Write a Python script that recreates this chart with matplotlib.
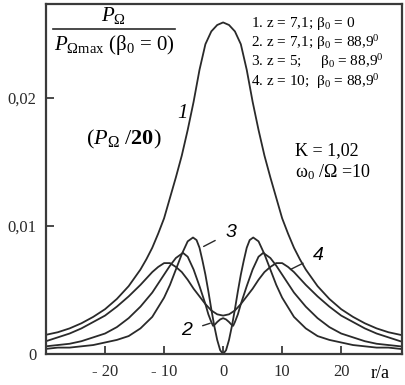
import numpy as np
import matplotlib.pyplot as plt
from matplotlib.lines import Line2D

plt.rcParams['font.family'] = ['Liberation Serif', 'DejaVu Serif']
plt.rcParams['mathtext.fontset'] = 'custom'
plt.rcParams['mathtext.rm'] = 'Liberation Serif'
plt.rcParams['mathtext.it'] = 'Liberation Serif:italic'
plt.rcParams['mathtext.bf'] = 'Liberation Serif:bold'

# r/a >= 0 half of each curve (curves are symmetric)
r1 = [0, 1, 2, 3, 4, 5, 6, 7, 8, 9, 10, 11, 12, 13, 14, 16, 18, 20, 22, 24, 26, 28, 30]
p1 = [0.0259, 0.0257, 0.0252, 0.0242, 0.0222, 0.0197, 0.0175, 0.0155, 0.0138, 0.0122,
      0.0106, 0.0094, 0.0083, 0.0074, 0.0066, 0.0053, 0.0043, 0.0035, 0.0029, 0.0024,
      0.0020, 0.0017, 0.0015]

r2 = [0, 0.5, 1, 1.4, 1.7, 2, 2.5, 3, 4, 5, 6, 6.8, 8, 9, 10, 12, 14, 16, 18, 20, 22, 24, 26, 28, 30]
p2 = [0.0028, 0.0027, 0.0025, 0.0023, 0.0022, 0.0025, 0.0031, 0.0039, 0.0053, 0.0066,
      0.0076, 0.0079, 0.0075, 0.0069, 0.0062, 0.0048, 0.0037, 0.0028, 0.0021, 0.0016,
      0.0013, 0.0010, 0.0008, 0.0007, 0.0006]

r3 = [0, 0.5, 1, 1.5, 2, 2.5, 3, 3.5, 4, 4.5, 5.1, 6, 7, 8, 9, 10, 12, 14, 16, 18, 20, 22, 24, 26, 28, 30]
p3 = [0.0, 0.0003, 0.0011, 0.0022, 0.0035, 0.0049, 0.0062, 0.0073, 0.0083, 0.0089,
      0.0091, 0.0088, 0.0078, 0.0066, 0.0054, 0.0044, 0.0029, 0.0020, 0.0014, 0.0011,
      0.0009, 0.0007, 0.0006, 0.0005, 0.0005, 0.0004]

r4 = [0, 1, 2, 3, 4, 5, 6, 7, 8, 9, 9.5, 10, 11, 12, 14, 16, 18, 20, 22, 24, 26, 28, 30]
p4 = [0.0030, 0.0031, 0.0034, 0.0039, 0.0045, 0.0051, 0.0058, 0.0064, 0.0068, 0.0071,
      0.0071, 0.0071, 0.0068, 0.0064, 0.0054, 0.0045, 0.0037, 0.0030, 0.0025, 0.0020,
      0.0016, 0.0013, 0.0010]

xticks = [-20, -10, 0, 10, 20]
xticklabels = ['- 20', '- 10', '0', '10', '20']
yticks = [0, 0.01, 0.02]
yticklabels = ['0', '0,01', '0,02']

legend_lines = [r'1. z = 7,1; $\mathrm{\beta}_0$ = 0',
                r'2. z = 7,1; $\mathrm{\beta}_0$ = 88,9$^0$',
                r'3. z = 5;     $\mathrm{\beta}_0$ = 88,9$^0$',
                r'4. z = 10;  $\mathrm{\beta}_0$ = 88,9$^0$']


def mirror(r, p):
    r = np.array(r, dtype=float)
    p = np.array(p, dtype=float)
    return np.concatenate((-r[:0:-1], r)), np.concatenate((p[:0:-1], p))


fig = plt.figure(figsize=(4.05, 3.85), dpi=100)
ax = fig.add_axes([46 / 405, 1 - 354 / 385, 356 / 405, 350 / 385])

col = '#2a2a2a'
for r, p in [(r1, p1), (r2, p2), (r3, p3), (r4, p4)]:
    x, y = mirror(r, p)
    ax.plot(x, y, color=col, lw=1.3)

ax.set_xlim(-30, 30.3)
ax.set_ylim(0, 0.02734)
ax.set_xticks(xticks)
ax.set_xticklabels(xticklabels)
ax.set_yticks(yticks)
ax.set_yticklabels(yticklabels)
ax.tick_params(direction='in', length=6, width=1.2, colors=col, labelsize=12, pad=7)
for s in ax.spines.values():
    s.set_linewidth(1.6)
    s.set_color('#3a3a3a')

fig.text(380 / 405, 1 - 373 / 385, 'r/a', fontsize=13, ha='center', va='center')

# y quantity as a fraction
fig.text(113 / 405, 1 - 16 / 385, r'$P_\Omega$', fontsize=15, ha='center', va='center')
fig.add_artist(Line2D([53 / 405, 175 / 405], [1 - 29 / 385, 1 - 29 / 385],
                      color=col, lw=1.2))
fig.text(114 / 405, 1 - 45 / 385, r'$P_{\Omega\mathrm{max}}$ ($\mathrm{\beta}_0$ = 0)',
         fontsize=15, ha='center', va='center')

for i, t in enumerate(legend_lines):
    fig.text(251 / 405, 1 - (23 + 19.5 * i) / 385, t, fontsize=11, ha='left', va='center')

fig.text(295 / 405, 1 - 151 / 385, 'K = 1,02', fontsize=13, ha='left', va='center')
fig.text(295 / 405, 1 - 172 / 385, r'$\mathrm{\omega}_0$ /$\Omega$ =10', fontsize=13,
         ha='left', va='center')

fig.text(183 / 405, 1 - 114 / 385, '1', fontsize=15, style='italic', ha='center', va='center')
fig.text(124 / 405, 1 - 139 / 385, r'($P_\Omega$ /$\mathbf{20}$)', fontsize=16,
         ha='center', va='center')

lab = dict(fontsize=14, style='italic', family=['Liberation Sans', 'DejaVu Sans'],
           ha='center', va='center')
ax.annotate('3', xy=(-3.3, 0.0084), xytext=(1.3, 0.0095),
            arrowprops=dict(arrowstyle='-', color=col, lw=1.0, shrinkA=6, shrinkB=0), **lab)
ax.annotate('2', xy=(-2.2, 0.0024), xytext=(-6.2, 0.0018),
            arrowprops=dict(arrowstyle='-', color=col, lw=1.0, shrinkA=6, shrinkB=0), **lab)
ax.annotate('4', xy=(11.4, 0.0066), xytext=(16.2, 0.0077),
            arrowprops=dict(arrowstyle='-', color=col, lw=1.0, shrinkA=6, shrinkB=0), **lab)

fig.savefig('out.png', dpi=100)
